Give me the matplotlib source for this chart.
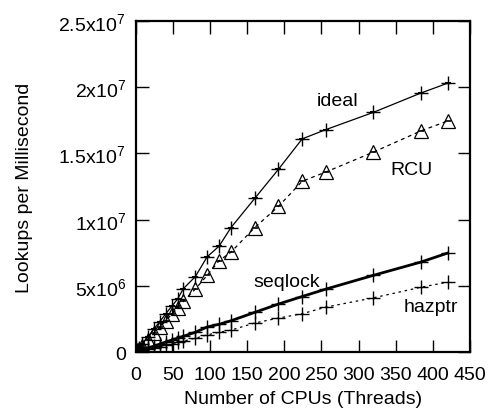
import matplotlib
matplotlib.use("Agg")
import matplotlib.pyplot as plt

plt.rcParams['font.family'] = ['Liberation Sans', 'DejaVu Sans']
plt.rcParams['mathtext.default'] = 'regular'

# CPU counts (threads)
cpus = [1, 2, 4, 8, 16, 24, 32, 40, 48, 56, 64, 80, 96, 112, 128,
        160, 192, 224, 256, 320, 384, 420]

# lookups per millisecond, in millions
ideal = [0.072, 0.144, 0.29, 0.58, 1.15, 1.73, 2.3, 2.88, 3.45, 4.0, 4.8,
         5.7, 7.2, 8.0, 9.4, 11.6, 13.8, 16.1, 16.8, 18.1, 19.56, 20.3]
rcu = [0.059, 0.118, 0.235, 0.47, 0.94, 1.41, 1.88, 2.35, 2.85, 3.3, 3.85,
       4.76, 5.8, 6.9, 7.55, 9.4, 11.0, 12.9, 13.6, 15.1, 16.7, 17.45]
seqlock = [0.019, 0.038, 0.076, 0.15, 0.3, 0.45, 0.6, 0.76, 0.9, 1.05, 1.2,
           1.5, 1.9, 2.1, 2.37, 3.0, 3.63, 4.2, 4.76, 5.8, 6.8, 7.48]
hazptr = [0.013, 0.026, 0.052, 0.1, 0.21, 0.31, 0.42, 0.52, 0.63, 0.73, 0.84,
          1.05, 1.3, 1.5, 1.66, 2.2, 2.57, 2.9, 3.4, 4.1, 4.9, 5.28]

yticks = [0, 5e6, 1e7, 1.5e7, 2e7, 2.5e7]
ytick_labels = ['0', '5x10$^6$', '1x10$^7$', '1.5x10$^7$', '2x10$^7$', '2.5x10$^7$']
xticks = [0, 50, 100, 150, 200, 250, 300, 350, 400, 450]

def scale(v):
    return [a * 1e6 for a in v]

fig = plt.figure(figsize=(4.89, 4.14), dpi=100)
ax = fig.add_axes([0.278, 0.147, 0.683, 0.8])

ax.plot(cpus, scale(ideal), '-', color='black', lw=0.9,
        marker='+', ms=10, mew=1.0)
ax.plot(cpus, scale(ideal), ls='none', marker='_', ms=5, mew=1.5, color='black')

ax.plot(cpus, scale(rcu), ls=(0, (3, 3)), color='black', lw=0.9,
        marker='^', ms=10, mfc='none', mew=0.9)
ax.plot(cpus, scale(rcu), ls='none', marker='_', ms=5, mew=1.2, color='black')

ax.plot(cpus, scale(seqlock), '-', color='black', lw=2.0,
        marker='+', ms=10, mew=1.0)

ax.plot(cpus, scale(hazptr), ls=(0, (2, 3)), color='black', lw=0.9,
        marker='+', ms=10, mew=1.0)

ax.text(271, 1.9e7, 'ideal', fontsize=14, ha='center', va='center')
ax.text(371, 1.38e7, 'RCU', fontsize=14, ha='center', va='center')
ax.text(203, 5.36e6, 'seqlock', fontsize=14, ha='center', va='center')
ax.text(397, 3.47e6, 'hazptr', fontsize=14, ha='center', va='center')

ax.set_xlim(0, 450)
ax.set_ylim(0, 2.5e7)
ax.set_xticks(xticks)
ax.set_yticks(yticks)
ax.set_yticklabels(ytick_labels)
ax.tick_params(direction='in', length=9, width=1, top=True, right=True,
               labelsize=14, pad=7)
ax.tick_params(axis='x', pad=10)
for s in ax.spines.values():
    s.set_linewidth(1.6)

ax.set_xlabel('Number of CPUs (Threads)', fontsize=14, labelpad=5)
ax.set_ylabel('Lookups per Millisecond', fontsize=14, labelpad=18)

fig.savefig('out.png', dpi=100)
